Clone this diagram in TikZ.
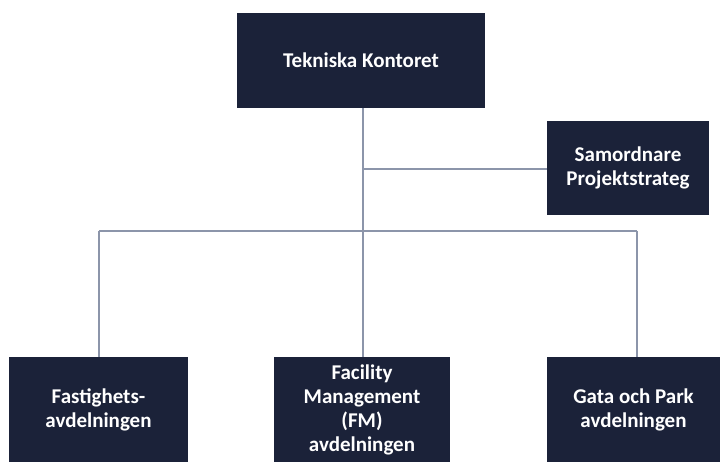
\documentclass[tikz,border=0pt]{standalone}
\usepackage{fontspec}
\setmainfont{Carlito}
\definecolor{boxnavy}{HTML}{1B2239}
\definecolor{linegray}{HTML}{8C95AA}
\begin{document}
\begin{tikzpicture}[x=1pt,y=-1pt,
  orgbox/.style={fill=boxnavy,draw=none,text=white,font=\bfseries\fontsize{21}{24}\selectfont,align=center,inner sep=0pt},
  conn/.style={draw=linegray,line width=1.3pt}]
\useasboundingbox (0,0) rectangle (720,462);
\fill[white] (0,0) rectangle (720,462);
% boxes
\node[orgbox,minimum width=248pt,minimum height=95pt] (tk) at (361,60.5) {Tekniska Kontoret};
\node[orgbox,minimum width=162pt,minimum height=94pt] (sp) at (628,168) {Samordnare\\Projektstrateg};
\node[orgbox,minimum width=179pt,minimum height=106pt] (fa) at (98.5,410) {Fastighets-\\avdelningen};
\node[orgbox,minimum width=176pt,minimum height=106pt] (fm) at (362,410) {Facility\\Management\\(FM)\\avdelningen};
\node[orgbox,minimum width=173pt,minimum height=106pt] (gp) at (633.5,410) {Gata och Park\\avdelningen};
% junctions
\coordinate (jsp) at (363,169);
\coordinate (jbus) at (363,231);
\coordinate (bl) at (99,231);
\coordinate (br) at (637,231);
% connectors
\draw[conn] (tk.south -| jsp) -- (jbus);
\draw[conn] (jsp) -- (sp.west |- jsp);
\draw[conn] (bl) -- (br);
\draw[conn] (bl) -- (fa.north -| bl);
\draw[conn] (jbus) -- (fm.north -| jbus);
\draw[conn] (br) -- (gp.north -| br);
\end{tikzpicture}
\end{document}
